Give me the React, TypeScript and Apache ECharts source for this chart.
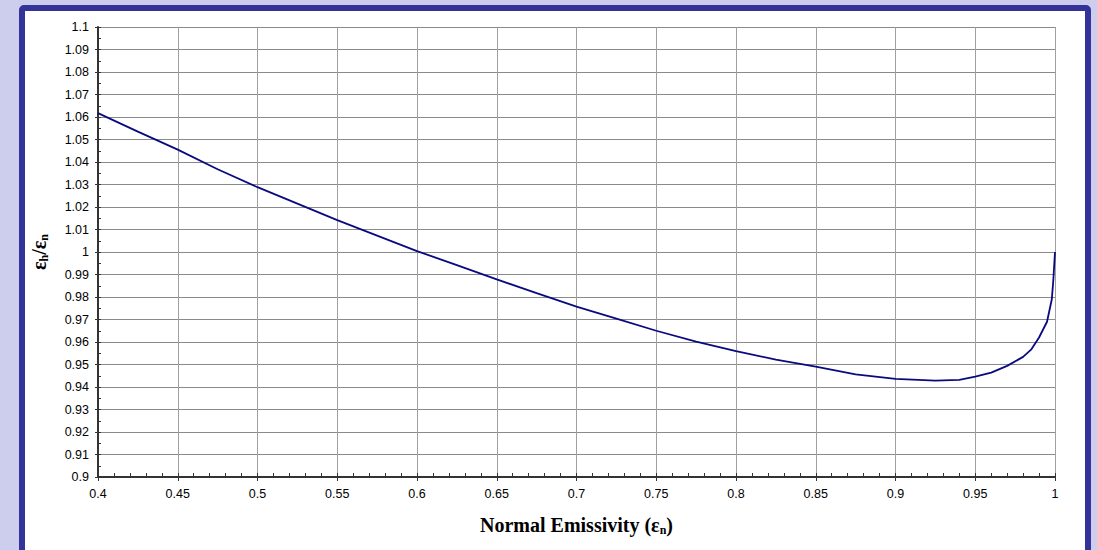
import React, { useEffect, useRef } from "react";
import * as echarts from "echarts";

// Normal emissivity (x) and ratio of hemispherical to normal emissivity (y)
const emissivityN = [
  0.4, 0.425, 0.45, 0.475, 0.5, 0.525, 0.55, 0.575, 0.6, 0.625, 0.65, 0.675,
  0.7, 0.725, 0.75, 0.775, 0.8, 0.825, 0.85, 0.875, 0.9, 0.925, 0.94, 0.95,
  0.96, 0.97, 0.98, 0.985, 0.99, 0.995, 0.998, 0.999, 1.0,
];
const ratioHN = [
  1.0617, 1.0535, 1.0455, 1.0368, 1.0288, 1.0215, 1.0142, 1.0073, 1.0004,
  0.9942, 0.9878, 0.9817, 0.9757, 0.9704, 0.9650, 0.9602, 0.9559, 0.9522,
  0.9491, 0.9456, 0.9436, 0.9428, 0.9432, 0.9446, 0.9464, 0.9494, 0.9534,
  0.9566, 0.9620, 0.969, 0.979, 0.988, 1.0,
];

const xMin = 0.4;
const xMax = 1.0;
const xStep = 0.05;
const xMinorStep = 0.01;
const yMin = 0.9;
const yMax = 1.1;
const yStep = 0.01;
const yMinorStep = 0.005;

const fmt = (v: number) => String(parseFloat(v.toFixed(3)));

export default function App() {
  const ref = useRef<HTMLDivElement>(null);

  useEffect(() => {
    if (!ref.current) return;
    const chart = echarts.init(ref.current, null, { renderer: "svg" });
    const labelFont = {
      fontFamily: "'Liberation Sans', Arial, sans-serif",
      fontSize: 12.5,
      color: "#000",
    };
    const serif = "'Liberation Serif', 'Times New Roman', serif";
    const rich = {
      e: { fontFamily: serif, fontWeight: "bold" as const, fontSize: 20, color: "#000" },
      s: {
        fontFamily: serif,
        fontWeight: "bold" as const,
        fontSize: 12,
        color: "#000",
        verticalAlign: "bottom" as const,
        padding: [11, 0, 0, 0],
      },
    };
    const data = emissivityN.map((x, i) => [x, ratioHN[i]]);
    chart.setOption({
      animation: false,
      backgroundColor: "transparent",
      grid: { left: 98, right: 42, top: 27, bottom: 73 },
      xAxis: [
        {
          type: "value",
          min: xMin,
          max: xMax,
          interval: xStep,
          position: "bottom",
          name: "{e|Normal Emissivity (ε}{s|n}{e|)}",
          nameLocation: "middle",
          nameGap: 36,
          nameTextStyle: { rich },
          axisLine: { show: true, onZero: false, lineStyle: { color: "#333", width: 2 } },
          axisTick: { show: true, inside: false, length: 4, lineStyle: { color: "#333" } },
          axisLabel: { ...labelFont, margin: 10, formatter: fmt },
          splitLine: { show: true, lineStyle: { color: "#a0a0a0", width: 1 } },
        },
        {
          type: "value",
          min: xMin,
          max: xMax,
          interval: xMinorStep,
          position: "bottom",
          axisLine: { show: false, onZero: false },
          axisTick: { show: true, inside: true, length: 4, lineStyle: { color: "#333" } },
          axisLabel: { show: false },
          splitLine: { show: false },
        },
      ],
      yAxis: [
        {
          type: "value",
          min: yMin,
          max: yMax,
          interval: yStep,
          position: "left",
          name: "{e|ε}{s|h}{e|/ε}{s|n}",
          nameLocation: "middle",
          nameGap: 48,
          nameRotate: 90,
          nameTextStyle: { rich },
          axisLine: { show: true, onZero: false, lineStyle: { color: "#333", width: 2 } },
          axisTick: { show: true, inside: false, length: 3, lineStyle: { color: "#333" } },
          axisLabel: { ...labelFont, margin: 9, formatter: fmt },
          splitLine: { show: true, lineStyle: { color: "#8a8a8a", width: 1 } },
        },
        {
          type: "value",
          min: yMin,
          max: yMax,
          interval: yMinorStep,
          position: "left",
          axisLine: { show: false, onZero: false },
          axisTick: { show: true, inside: true, length: 3, lineStyle: { color: "#333" } },
          axisLabel: { show: false },
          splitLine: { show: false },
        },
      ],
      series: [
        {
          type: "line",
          xAxisIndex: 0,
          yAxisIndex: 0,
          data,
          showSymbol: false,
          smooth: false,
          lineStyle: { color: "#0a0a80", width: 1.8 },
        },
      ],
    });
    return () => chart.dispose();
  }, []);

  return (
    <div
      style={{
        position: "fixed",
        left: 0,
        top: 0,
        width: 1097,
        height: 550,
        background: "#cdcdee",
        overflow: "hidden",
      }}
    >
      <div
        style={{
          position: "absolute",
          left: 19,
          top: 5,
          width: 1060,
          height: 540,
          border: "6px solid #333399",
          borderRadius: 5,
          background: "#fff",
        }}
      />
      <div
        ref={ref}
        style={{ position: "absolute", left: 0, top: 0, width: 1097, height: 550 }}
      />
    </div>
  );
}
